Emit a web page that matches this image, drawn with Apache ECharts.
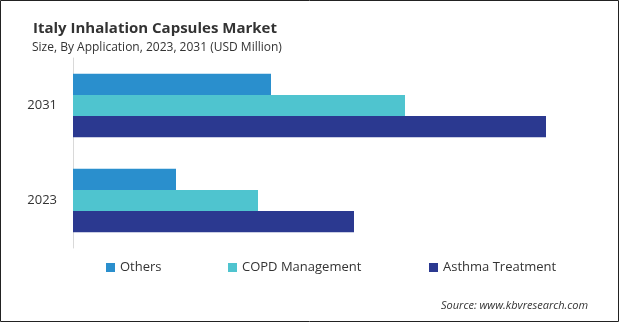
<!DOCTYPE html>
<html>
<head>
<meta charset="utf-8">
<script src="https://cdn.jsdelivr.net/npm/echarts@6/dist/echarts.min.js"></script>
<style>
html,body{margin:0;padding:0;background:#fff;}
#main{width:619px;height:322px;}
</style>
</head>
<body>
<div id="main"></div>
<script>
const categories = ['2023', '2031'];
const seriesNames = ['Others', 'COPD Management', 'Asthma Treatment'];
const others = [10.3, 19.8];
const copd = [18.5, 33.2];
const asthma = [28.1, 47.3];
const colors = ['#2a8fcd', '#4fc4cf', '#2b3990'];

const chart = echarts.init(document.getElementById('main'));
const font = '"Open Sans", "Segoe UI", sans-serif';
const legendLefts = [101, 223, 424];
const legends = seriesNames.map((n, i) => ({
  data: [n], left: legendLefts[i], top: 256, itemWidth: 9, itemHeight: 9, itemGap: 3,
  icon: 'rect', textStyle: {fontFamily: font, fontSize: 13, color: '#333'}
}));
chart.setOption({
  animation: false,
  title: [
    {text: 'Italy Inhalation Capsules Market', left: 28, top: 16,
     textStyle: {fontFamily: font, fontSize: 15, fontWeight: 'bold', color: '#333'}},
    {text: 'Size, By Application, 2023, 2031 (USD Million)', left: 27, top: 37,
     textStyle: {fontFamily: font, fontSize: 12, fontWeight: 'normal', color: '#333'}},
    {text: 'Source: www.kbvresearch.com', left: 436, top: 295,
     textStyle: {fontFamily: font, fontSize: 11, fontStyle: 'italic', fontWeight: 'normal', color: '#333'}}
  ],
  legend: legends,
  grid: {left: 73, top: 58, width: 540, height: 190, containLabel: false},
  xAxis: {type: 'value', min: 0, max: 54, show: false},
  yAxis: {
    type: 'category', data: categories,
    axisLine: {show: true, lineStyle: {color: '#d9d9d9'}},
    axisTick: {show: false},
    axisLabel: {fontFamily: font, fontSize: 13, color: '#333', margin: 16}
  },
  graphic: [{type: 'rect', shape: {x: 0.5, y: 0.5, width: 618, height: 321},
    style: {fill: 'none', stroke: '#222', lineWidth: 1}, silent: true}],
  series: [
    {name: seriesNames[0], type: 'bar', data: others, itemStyle: {color: colors[0]}, barGap: '0%', barCategoryGap: '33%'},
    {name: seriesNames[1], type: 'bar', data: copd, itemStyle: {color: colors[1]}, barGap: '0%', barCategoryGap: '33%'},
    {name: seriesNames[2], type: 'bar', data: asthma, itemStyle: {color: colors[2]}, barGap: '0%', barCategoryGap: '33%'}
  ]
});
</script>
</body>
</html>
